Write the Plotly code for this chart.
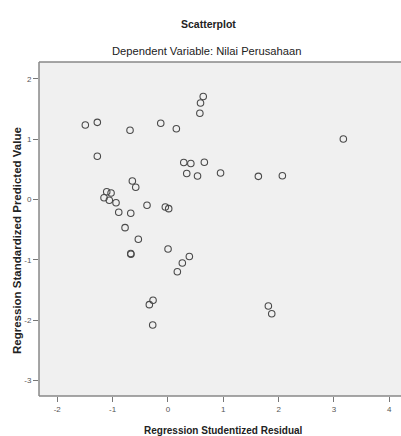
import plotly.graph_objects as go

# Regression Studentized Residual (x) and Regression Standardized Predicted Value (y)
residual = [-1.493, -1.276, -0.685, -0.130, 0.152, -1.276, 0.286, 0.414, 0.340, 0.535,
            0.638, 0.589, 0.577, 0.658, 0.951, 1.634, 2.068, 3.170, -0.643, -0.582,
            -1.106, -1.028, -1.155, -1.059, -0.938, -0.378, -0.047, 0.014, -0.889, -0.672,
            -0.775, -0.535, -0.672, -0.669, 0.002, 0.387, 0.260, 0.170, -0.269, -0.336,
            -0.275, 1.815, 1.876]
predicted = [1.235, 1.279, 1.147, 1.263, 1.173, 0.716, 0.613, 0.597, 0.431, 0.389,
             1.707, 1.599, 1.429, 0.617, 0.439, 0.384, 0.394, 1.003, 0.307, 0.202,
             0.129, 0.108, 0.030, -0.013, -0.053, -0.096, -0.124, -0.152, -0.212, -0.229,
             -0.467, -0.660, -0.895, -0.907, -0.820, -0.945, -1.052, -1.197, -1.671, -1.743,
             -2.080, -1.765, -1.893]

x_ticks = [-2, -1, 0, 1, 2, 3, 4]
y_ticks = [-3, -2, -1, 0, 1, 2]

FONT = "Liberation Sans, Arial, sans-serif"
BORDER = dict(color="#888888", width=1.5)

fig = go.Figure()
fig.add_trace(go.Scatter(
    x=residual, y=predicted, mode="markers",
    marker=dict(symbol="circle-open", size=6.5, color="#4a4a4a", line=dict(width=1.1)),
    showlegend=False, hoverinfo="skip", cliponaxis=False))

fig.update_layout(
    width=401, height=436,
    margin=dict(l=39, r=0, t=62, b=40, pad=0),
    paper_bgcolor="white", plot_bgcolor="#f0f0f0",
    xaxis=dict(range=[-2.33, 4.212], tickvals=x_ticks, ticktext=[str(v) for v in x_ticks],
               showgrid=False, zeroline=False, showline=False,
               ticks="outside", ticklen=5, tickcolor="#777777", tickwidth=1,
               tickfont=dict(family=FONT, size=8, color="#555555")),
    yaxis=dict(range=[-3.257, 2.279], tickvals=y_ticks, ticktext=[str(v) for v in y_ticks],
               showgrid=False, zeroline=False, showline=False,
               ticks="outside", ticklen=5, tickcolor="#777777", tickwidth=1,
               tickfont=dict(family=FONT, size=8, color="#555555")),
    shapes=[
        dict(type="line", xref="paper", yref="paper", x0=0, x1=1.01, y0=1, y1=1, line=BORDER),
        dict(type="line", xref="paper", yref="paper", x0=0, x1=1.01, y0=0, y1=0, line=BORDER),
        dict(type="line", xref="paper", yref="paper", x0=0, x1=0, y0=0, y1=1, line=BORDER),
    ],
    annotations=[
        dict(text="<b>Scatterplot</b>", xref="paper", yref="paper", x=0.4669, y=1.1138,
             xanchor="center", yanchor="middle", showarrow=False,
             font=dict(family=FONT, size=10.5, color="#222222")),
        dict(text="Dependent Variable: Nilai Perusahaan", xref="paper", yref="paper", x=0.464, y=1.033,
             xanchor="center", yanchor="middle", showarrow=False,
             font=dict(family=FONT, size=11.2, color="#222222")),
        dict(text="<b>Regression Studentized Residual</b>", xref="paper", yref="paper", x=0.511, y=-0.1018,
             xanchor="center", yanchor="middle", showarrow=False,
             font=dict(family=FONT, size=10, color="#222222")),
        dict(text="<b>Regression Standardized Predicted Value</b>", xref="paper", yref="paper",
             x=-0.0608, y=0.467, textangle=-90,
             xanchor="center", yanchor="middle", showarrow=False,
             font=dict(family=FONT, size=11.5, color="#222222")),
    ],
)

fig.write_html("out.html", config={"displayModeBar": False},
               post_script=("document.documentElement.style.overflow='hidden';"
                            "document.body.style.overflow='hidden';"
                            "document.body.style.margin='0';"
                            "var d=document.getElementById('{plot_id}');"
                            "d.style.position='fixed';d.style.top='0';d.style.left='0';"))
